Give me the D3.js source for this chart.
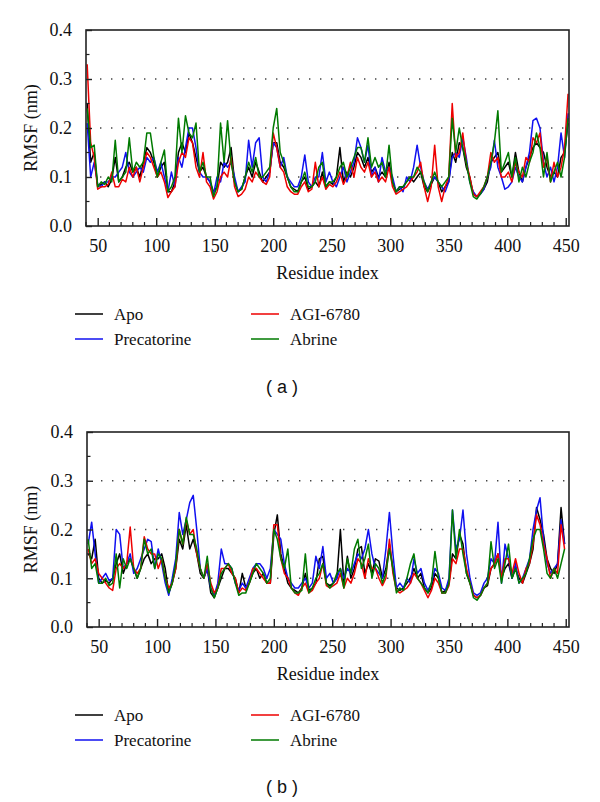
<!DOCTYPE html>
<html>
<head>
<meta charset="utf-8">
<script src="https://cdn.jsdelivr.net/npm/d3@7"></script>
<style>
  html, body { margin: 0; padding: 0; background: #fff; }
  svg { display: block; }
  .serif { font-family: "Liberation Serif", "DejaVu Serif", serif; }
  .sans { font-family: "Liberation Sans", "DejaVu Sans", sans-serif; }
</style>
</head>
<body>
<svg id="chart" width="600" height="802"></svg>
<script>
// ---------------- DATA ----------------
const seriesNames = ["Apo", "Precatorine", "AGI-6780", "Abrine"];
const seriesColors = ["#000000", "#1010f0", "#ee0000", "#007a00"];
const yTicks = [0.0, 0.1, 0.2, 0.3, 0.4];
const xTicks = [50, 100, 150, 200, 250, 300, 350, 400, 450];
const panelLabels = ["( a )", "( b )"];
const xTitle = "Residue index";
const yTitle = "RMSF (nm)";

// residue positions sampled every 3 residues
const residuesA = d3.range(41, 453, 3);
const residuesB = d3.range(41, 450, 3);

// Panel (a)
const apoA = [
0.25,0.13,0.15,0.08,0.085,0.09,0.08,0.095,0.14,0.09,
0.10,0.12,0.13,0.11,0.12,0.10,0.13,0.16,0.15,0.13,
0.10,0.12,0.13,0.07,0.07,0.09,0.15,0.17,0.15,0.19,
0.17,0.14,0.11,0.12,0.10,0.09,0.07,0.08,0.13,0.12,
0.13,0.16,0.09,0.07,0.075,0.10,0.12,0.10,0.13,0.11,
0.09,0.10,0.11,0.17,0.17,0.13,0.12,0.10,0.08,0.075,
0.07,0.09,0.10,0.075,0.08,0.09,0.08,0.11,0.08,0.09,
0.085,0.10,0.16,0.09,0.11,0.10,0.12,0.15,0.14,0.12,
0.14,0.11,0.12,0.10,0.11,0.10,0.13,0.09,0.07,0.075,
0.08,0.09,0.10,0.09,0.10,0.11,0.08,0.07,0.085,0.10,
0.09,0.07,0.08,0.09,0.15,0.13,0.17,0.16,0.12,0.10,
0.065,0.06,0.065,0.075,0.09,0.13,0.14,0.15,0.11,0.12,
0.13,0.10,0.15,0.11,0.09,0.12,0.14,0.16,0.17,0.16,
0.15,0.12,0.10,0.11,0.10,0.14,0.15,0.21];
const precA = [
0.21,0.10,0.13,0.085,0.08,0.09,0.09,0.10,0.10,0.11,
0.12,0.15,0.11,0.10,0.11,0.12,0.11,0.14,0.13,0.14,
0.11,0.13,0.10,0.07,0.11,0.08,0.14,0.12,0.16,0.20,
0.20,0.16,0.11,0.10,0.10,0.09,0.065,0.10,0.09,0.13,
0.12,0.13,0.10,0.07,0.08,0.09,0.175,0.12,0.17,0.18,
0.10,0.09,0.11,0.17,0.16,0.12,0.14,0.10,0.09,0.08,
0.08,0.10,0.145,0.09,0.08,0.10,0.10,0.15,0.09,0.11,
0.09,0.08,0.10,0.12,0.09,0.11,0.13,0.18,0.16,0.13,
0.165,0.10,0.12,0.09,0.14,0.11,0.12,0.10,0.07,0.08,
0.07,0.10,0.09,0.12,0.165,0.12,0.09,0.075,0.09,0.10,
0.09,0.08,0.07,0.09,0.14,0.15,0.14,0.18,0.14,0.09,
0.07,0.06,0.065,0.075,0.10,0.12,0.175,0.12,0.10,0.075,
0.08,0.09,0.12,0.10,0.09,0.12,0.15,0.215,0.22,0.20,
0.13,0.10,0.12,0.09,0.12,0.19,0.14,0.23];
const agiA = [
0.33,0.17,0.14,0.075,0.08,0.08,0.085,0.11,0.08,0.08,
0.095,0.09,0.12,0.10,0.12,0.09,0.12,0.15,0.14,0.12,
0.10,0.11,0.09,0.058,0.07,0.08,0.13,0.15,0.14,0.18,
0.17,0.12,0.10,0.15,0.09,0.08,0.055,0.07,0.10,0.11,
0.10,0.14,0.08,0.06,0.065,0.075,0.10,0.09,0.11,0.10,
0.09,0.085,0.10,0.19,0.16,0.12,0.11,0.08,0.07,0.065,
0.065,0.08,0.09,0.07,0.075,0.13,0.08,0.10,0.075,0.085,
0.08,0.09,0.11,0.085,0.10,0.13,0.10,0.14,0.12,0.11,
0.13,0.10,0.11,0.09,0.10,0.09,0.12,0.08,0.065,0.07,
0.075,0.08,0.09,0.10,0.11,0.13,0.08,0.05,0.08,0.165,
0.08,0.05,0.08,0.10,0.25,0.14,0.15,0.19,0.13,0.10,
0.065,0.06,0.07,0.08,0.10,0.15,0.13,0.14,0.10,0.10,
0.11,0.09,0.13,0.11,0.10,0.14,0.13,0.18,0.17,0.19,
0.12,0.14,0.09,0.13,0.10,0.12,0.16,0.27];
const abrA = [
0.24,0.16,0.165,0.08,0.09,0.085,0.10,0.09,0.175,0.09,
0.10,0.11,0.18,0.11,0.13,0.12,0.13,0.19,0.19,0.14,
0.10,0.13,0.155,0.07,0.08,0.10,0.22,0.15,0.225,0.19,
0.18,0.21,0.11,0.13,0.10,0.10,0.06,0.08,0.21,0.13,
0.215,0.13,0.09,0.07,0.075,0.10,0.13,0.11,0.14,0.10,
0.10,0.11,0.12,0.20,0.24,0.15,0.13,0.10,0.08,0.07,
0.07,0.09,0.11,0.08,0.08,0.09,0.12,0.13,0.08,0.09,
0.09,0.10,0.12,0.13,0.10,0.12,0.14,0.16,0.16,0.13,
0.18,0.12,0.14,0.12,0.13,0.10,0.165,0.09,0.07,0.08,
0.08,0.09,0.10,0.10,0.12,0.11,0.09,0.07,0.09,0.11,
0.09,0.08,0.09,0.10,0.22,0.15,0.20,0.16,0.13,0.09,
0.06,0.055,0.065,0.08,0.10,0.13,0.17,0.235,0.11,0.13,
0.15,0.10,0.14,0.09,0.12,0.10,0.13,0.15,0.19,0.16,
0.10,0.15,0.09,0.11,0.13,0.10,0.14,0.22];

// Panel (b)
const apoB = [
0.15,0.14,0.18,0.10,0.09,0.095,0.09,0.10,0.13,0.15,
0.11,0.13,0.14,0.12,0.10,0.12,0.14,0.15,0.13,0.14,
0.14,0.15,0.12,0.07,0.09,0.12,0.18,0.16,0.21,0.16,
0.18,0.15,0.11,0.10,0.12,0.07,0.06,0.08,0.10,0.12,
0.12,0.11,0.10,0.07,0.11,0.08,0.09,0.11,0.12,0.10,
0.11,0.09,0.09,0.19,0.23,0.15,0.12,0.09,0.08,0.075,
0.07,0.08,0.11,0.075,0.08,0.09,0.14,0.145,0.09,0.085,
0.09,0.10,0.20,0.09,0.145,0.10,0.12,0.16,0.165,0.11,
0.13,0.11,0.14,0.135,0.10,0.12,0.17,0.12,0.08,0.075,
0.08,0.09,0.10,0.12,0.10,0.11,0.08,0.07,0.08,0.11,
0.10,0.07,0.075,0.09,0.15,0.14,0.19,0.17,0.11,0.09,
0.065,0.06,0.065,0.08,0.085,0.12,0.13,0.15,0.10,0.12,
0.13,0.10,0.12,0.10,0.09,0.11,0.13,0.16,0.245,0.22,
0.19,0.14,0.12,0.11,0.13,0.245,0.17];
const precB = [
0.17,0.215,0.15,0.09,0.10,0.11,0.095,0.10,0.20,0.19,
0.12,0.13,0.15,0.11,0.12,0.14,0.16,0.18,0.175,0.12,
0.16,0.13,0.09,0.065,0.10,0.14,0.235,0.19,0.22,0.255,
0.27,0.20,0.12,0.10,0.12,0.08,0.065,0.09,0.16,0.13,
0.13,0.12,0.09,0.075,0.09,0.08,0.10,0.12,0.13,0.13,
0.12,0.10,0.12,0.20,0.19,0.18,0.13,0.10,0.09,0.08,
0.08,0.09,0.10,0.08,0.09,0.145,0.12,0.165,0.10,0.11,
0.09,0.10,0.12,0.10,0.12,0.11,0.13,0.15,0.14,0.16,
0.20,0.15,0.12,0.11,0.10,0.16,0.235,0.15,0.08,0.09,
0.08,0.10,0.09,0.14,0.11,0.12,0.09,0.075,0.09,0.12,
0.11,0.08,0.075,0.10,0.24,0.16,0.18,0.24,0.15,0.10,
0.07,0.065,0.07,0.09,0.10,0.14,0.13,0.215,0.09,0.17,
0.14,0.10,0.13,0.09,0.10,0.12,0.14,0.20,0.24,0.265,
0.18,0.13,0.11,0.12,0.13,0.22,0.17];
const agiB = [
0.16,0.13,0.14,0.11,0.10,0.09,0.08,0.075,0.12,0.13,
0.12,0.13,0.205,0.12,0.11,0.12,0.185,0.16,0.15,0.15,
0.12,0.14,0.10,0.08,0.09,0.12,0.20,0.17,0.22,0.19,
0.20,0.15,0.12,0.10,0.13,0.09,0.07,0.08,0.12,0.12,
0.13,0.11,0.10,0.07,0.08,0.075,0.09,0.12,0.12,0.11,
0.10,0.09,0.09,0.21,0.21,0.14,0.11,0.10,0.08,0.07,
0.065,0.08,0.09,0.07,0.075,0.09,0.10,0.13,0.085,0.08,
0.085,0.09,0.11,0.08,0.10,0.09,0.11,0.14,0.13,0.10,
0.14,0.12,0.12,0.10,0.085,0.10,0.18,0.11,0.075,0.07,
0.075,0.08,0.09,0.11,0.10,0.09,0.075,0.06,0.075,0.10,
0.09,0.07,0.07,0.085,0.14,0.13,0.16,0.16,0.12,0.09,
0.065,0.06,0.065,0.08,0.09,0.12,0.13,0.15,0.10,0.14,
0.14,0.11,0.14,0.11,0.09,0.12,0.13,0.17,0.23,0.21,
0.17,0.14,0.10,0.12,0.11,0.21,0.16];
const abrB = [
0.18,0.12,0.13,0.09,0.09,0.10,0.085,0.09,0.15,0.08,
0.14,0.12,0.14,0.12,0.10,0.12,0.18,0.15,0.16,0.12,
0.15,0.14,0.10,0.07,0.09,0.13,0.20,0.17,0.225,0.19,
0.19,0.16,0.12,0.10,0.145,0.08,0.06,0.08,0.11,0.12,
0.13,0.12,0.09,0.065,0.07,0.07,0.09,0.11,0.13,0.12,
0.11,0.09,0.10,0.20,0.18,0.14,0.12,0.16,0.08,0.07,
0.07,0.075,0.15,0.07,0.08,0.10,0.11,0.13,0.09,0.08,
0.09,0.11,0.12,0.08,0.14,0.11,0.16,0.18,0.12,0.14,
0.17,0.10,0.13,0.12,0.09,0.11,0.16,0.12,0.07,0.08,
0.075,0.10,0.13,0.15,0.10,0.09,0.08,0.07,0.09,0.155,
0.10,0.07,0.07,0.09,0.24,0.14,0.20,0.15,0.11,0.09,
0.06,0.055,0.065,0.08,0.09,0.175,0.12,0.14,0.09,0.13,
0.17,0.10,0.12,0.09,0.10,0.11,0.14,0.18,0.20,0.20,
0.16,0.11,0.10,0.12,0.10,0.13,0.16];

// ---------------- DRAW ----------------
const svg = d3.select("#chart");

function drawPanel(cfg) {
  const { left, top, right, bottom, residues, series, label, legendY, labelY } = cfg;
  const g = svg.append("g");
  const x = d3.scaleLinear().domain([40, 452.8]).range([left, right]);
  const y = d3.scaleLinear().domain([0, 0.4]).range([bottom, top]);

  // dotted gridlines
  g.selectAll("line.grid").data([0.1, 0.2, 0.3]).join("line")
    .attr("x1", left + 14).attr("x2", right - 4)
    .attr("y1", d => y(d)).attr("y2", d => y(d))
    .attr("stroke", "#444").attr("stroke-width", 1.4)
    .attr("stroke-dasharray", "1.4,9.6");

  // lines
  const line = d3.line().x(d => x(d[0])).y(d => y(d[1]));
  series.forEach((vals, i) => {
    const pts = d3.zip(residues, vals).filter(d => d[0] != null && d[1] != null);
    g.append("path").datum(pts)
      .attr("d", line).attr("fill", "none")
      .attr("stroke", seriesColors[i]).attr("stroke-width", 1.5)
      .attr("stroke-linejoin", "round");
  });

  // frame
  g.append("rect").attr("x", left).attr("y", top)
    .attr("width", right - left).attr("height", bottom - top)
    .attr("fill", "none").attr("stroke", "#222").attr("stroke-width", 1.6);

  // x axis (ticks inward)
  const xAxis = d3.axisBottom(x).tickValues(xTicks).tickSize(-8).tickPadding(13)
    .tickFormat(d3.format("d"));
  const xg = g.append("g").attr("transform", `translate(0,${bottom})`).call(xAxis);
  xg.attr("font-family", null).attr("font-size", null);
  xg.select(".domain").remove();
  xg.selectAll(".tick line").attr("stroke", "#222").attr("stroke-width", 1.4);
  xg.selectAll(".tick text").attr("class", "serif").attr("font-size", 18).attr("fill", "#111");
  const xMinor = d3.range(40, 453, 10).filter(v => v % 50 !== 0);
  g.selectAll("line.xminor").data(xMinor).join("line")
    .attr("x1", d => x(d)).attr("x2", d => x(d))
    .attr("y1", bottom).attr("y2", bottom - 4)
    .attr("stroke", "#222").attr("stroke-width", 1.2);

  // y axis
  const yAxis = d3.axisLeft(y).tickValues(yTicks).tickSize(-6).tickPadding(14)
    .tickFormat(d3.format(".1f"));
  const yg = g.append("g").attr("transform", `translate(${left},0)`).call(yAxis);
  yg.attr("font-family", null).attr("font-size", null);
  yg.select(".domain").remove();
  yg.selectAll(".tick line").attr("stroke", "#222").attr("stroke-width", 1.4);
  yg.selectAll(".tick text").attr("class", "serif").attr("font-size", 18).attr("fill", "#111");
  g.selectAll("line.yminor").data([0.05, 0.15, 0.25, 0.35]).join("line")
    .attr("x1", left).attr("x2", left + 3.5)
    .attr("y1", d => y(d)).attr("y2", d => y(d))
    .attr("stroke", "#222").attr("stroke-width", 1.2);

  // axis titles
  g.append("text").attr("class", "serif").attr("x", (left + right) / 2).attr("y", bottom + 53)
    .attr("text-anchor", "middle").attr("font-size", 18)
    .attr("fill", "#111").text(xTitle);
  g.append("text").attr("class", "serif")
    .attr("transform", `translate(37,${(top + bottom) / 2}) rotate(-90)`)
    .attr("text-anchor", "middle").attr("font-size", 18)
    .attr("fill", "#111").text(yTitle);

  // legend
  const legPos = [[75, 0], [75, 25], [251, 0], [251, 25]];
  seriesNames.forEach((name, i) => {
    const [lx, dy] = legPos[i];
    const ly = legendY + dy;
    g.append("line").attr("x1", lx).attr("x2", lx + 28).attr("y1", ly).attr("y2", ly)
      .attr("stroke", seriesColors[i]).attr("stroke-width", 1.5);
    g.append("text").attr("class", "serif").attr("x", lx + 39).attr("y", ly + 6)
      .attr("font-size", 17).attr("fill", "#111").text(name);
  });

  // panel label
  g.append("text").attr("class", "sans").attr("x", 282).attr("y", labelY)
    .attr("text-anchor", "middle")
    .attr("font-size", 18).attr("fill", "#111").text(label);
}

drawPanel({ left: 86, top: 30, right: 569, bottom: 226, residues: residuesA,
  series: [apoA, precA, agiA, abrA], label: panelLabels[0], legendY: 314, labelY: 393 });
drawPanel({ left: 87, top: 432, right: 569, bottom: 627, residues: residuesB,
  series: [apoB, precB, agiB, abrB], label: panelLabels[1], legendY: 715, labelY: 793 });
</script>
</body>
</html>
